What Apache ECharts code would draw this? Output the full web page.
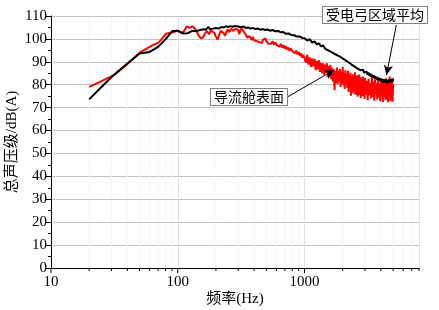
<!DOCTYPE html>
<html>
<head>
<meta charset="utf-8">
<script src="https://cdn.jsdelivr.net/npm/echarts@6/dist/echarts.min.js"></script>
<style>html,body{margin:0;padding:0;background:#fff;}#c{width:439px;height:310px;}</style>
</head>
<body>
<div id="c"></div>
<script>
// ---------- data ----------
const seriesNames = ['受电弓区域平均', '导流舱表面'];
const xName = '频率(Hz)';
const yName = '总声压级/dB(A)';
const xTickLabels = [10, 100, 1000];
const minorFreqs = [20,30,40,50,60,70,80,90,200,300,400,500,600,700,800,900,2000,3000,4000,5000,6000,7000,8000];

const blackFreq = [20,25,31.5,40,50,60,70,80,90,98,105,110,120,130,140,150,160,167,174,180,190,200,210,220,230,240,250,260,270,280,290,300,315,330,345,360,375,390,410,430,450,470,490,510,535,560,590,620,650,680,710,750,790,830,870,910,960,
1000,1050,1100,1150,1200,1250,1300,1350,1400,1450,1500,1550,1600,1650,1700,1750,1800,1850,1900,1950,2000,2050,2100,2150,2200,2250,2300,2350,2400,2450,2500,2550,2600,2650,2700,2750,2800,2850,2900,2950,3000,3050,3100,3150,3200,3250,3300,3350,3400,3450,3500,3550,3600,3650,3700,3750,3800,3850,3900,3950,4000,4050,4100,4150,4200,4250,4300,4350,4400,4450,4500,4550,4600,4650,4700,4750,4800,4850,4900,4950,5000];
const blackLevel = [73.6,79.0,84.4,89.3,93.6,94.3,96.5,99.8,103.3,103.6,103.0,102.4,102.5,103.5,103.4,103.9,104.2,104.0,105.3,104.2,104.5,104.8,104.5,105.2,105.0,105.5,105.2,105.6,105.3,105.6,105.1,105.4,105.1,105.4,104.8,105.0,104.5,104.8,104.3,104.5,104.0,104.3,103.9,104.1,103.6,103.9,103.3,103.5,102.9,103.0,102.3,102.4,101.7,101.6,101.0,101.1,100.4,
100.3,99.3,99.9,98.4,98.9,97.6,98.1,96.7,97.2,95.8,96.4,94.9,95.6,94.1,94.8,93.3,94.1,92.6,93.3,91.9,92.5,91.1,91.8,90.3,91.0,89.6,90.3,88.8,89.6,88.1,88.9,87.5,88.2,86.9,87.6,86.3,87.1,85.7,86.5,85.2,86.0,84.8,85.7,84.3,85.3,83.9,84.9,83.5,84.5,83.1,84.1,82.8,83.8,82.5,83.5,82.2,83.2,81.9,82.9,81.6,82.7,81.3,82.5,81.1,82.4,80.9,82.3,80.8,82.2,80.7,82.1,80.8,82.3,80.9,82.2,81.0,82.4,81.1,82.6,81.3,82.8];

const redFreq = [20,25,31.5,40,50,63,71,81,90,100,107,112,118,124,130,136,141,146,152,158,164,170,176,182,188,194,200,206,212,218,224,230,236,242,248,254,260,266,272,278,285,292,298,305,312,320,328,336,344,352,360,368,376,384,392,400,410,420,430,440,450,460,470,480,490,500,515,530,545,560,575,590,605,620,635,650,665,680,695,710,725,740,760,780,800,820,840,860,880,900,920,940,960,980,
1000,1025,1050,1075,1100,1125,1150,1175,1200,1225,1250,1275,1300,1325,1350,1375,1400,1425,1450,1475,1500,1525,1550,1575,1600,1625,1650,1675,1700,1725,1750,1775,1800,1825,1850,1875,1900,1925,1950,1975,2000,2025,2050,2075,2100,2125,2150,2175,2200,2225,2250,2275,2300,2325,2350,2375,2400,2425,2450,2475,2500,2525,2550,2575,2600,2625,2650,2675,2700,2725,2750,2775,2800,2825,2850,2875,2900,2925,2950,2975,
3000,3050,3100,3150,3200,3250,3300,3350,3400,3450,3500,3550,3600,3650,3700,3750,3800,3850,3900,3950,4000,4050,4100,4150,4200,4250,4300,4350,4400,4450,4500,4550,4600,4650,4700,4750,4800,4850,4900,4950,5000];
const redLevel = [79.1,81.6,84.3,89.0,94.0,97.2,98.5,102.3,102.8,103.6,102.6,103.4,105.5,104.8,105.5,104.6,103.4,101.5,100.2,100.6,102.5,103.4,102.0,103.6,104.0,102.7,101.0,99.6,101.8,103.5,104.3,102.6,101.4,103.2,104.1,103.0,102.8,104.5,103.5,102.7,104.3,105.0,104.1,102.1,103.8,104.7,103.6,104.2,101.8,100.6,100.0,101.2,100.4,99.5,100.8,99.4,100.1,99.0,99.8,98.6,99.3,98.2,99.6,98.9,100.2,99.0,98.0,98.8,97.9,99.0,97.5,98.4,97.2,98.0,96.6,97.8,96.2,97.3,95.8,96.9,95.4,96.3,94.8,95.9,94.6,95.4,93.8,94.9,93.2,94.3,92.5,93.7,91.8,93.0,
92.6,89.6,93.0,88.8,91.9,87.7,91.4,88.0,91.3,86.4,90.3,86.7,90.7,85.6,89.5,85.0,89.3,84.4,88.8,85.2,89.4,83.3,88.1,83.6,88.7,82.4,87.4,81.4,86.6,77.6,86.0,80.8,87.5,80.2,86.2,81.3,86.9,79.0,85.5,80.6,87.8,79.7,85.2,78.1,86.3,80.0,84.7,78.6,86.1,76.8,84.0,79.2,85.2,75.2,83.5,77.9,84.6,76.2,83.2,78.7,85.4,75.6,82.6,77.5,84.1,74.8,82.4,77.1,84.4,75.5,82.1,74.1,83.2,76.4,81.7,75.0,83.6,76.1,81.2,73.8,
82.9,75.7,81.6,73.2,82.6,75.4,80.8,74.0,83.4,74.7,81.3,73.0,82.4,75.9,80.6,73.5,83.0,74.4,80.4,72.8,82.1,75.2,81.0,72.5,81.8,74.6,80.3,73.2,82.8,73.9,80.7,72.4,82.0,75.1,83.6,72.9,82.5,74.3,81.4,72.6,80.2];

// annotation arrows: [from(freq, level), to(freq, level)]
const blackArrow = [[5300, 106.1], [4430, 84.2]];
const redArrow = [[735, 74.7], [1722, 86.5]];

// ---------- chart ----------
const zip = (xs, ys) => xs.map((x, i) => [x, ys[i]]);
const FONT = "'Liberation Serif', 'Noto Sans CJK SC', serif";
const chart = echarts.init(document.getElementById('c'), null, {renderer: 'canvas'});

const isPow10 = v => Math.abs(Math.log10(v) - Math.round(Math.log10(v))) < 1e-6;

const option = {
  animation: false,
  backgroundColor: '#fff',
  grid: {left: 51, right: 20, top: 16, bottom: 42, containLabel: false, outerBoundsMode: 'none'},
  xAxis: {
    type: 'log', logBase: 10, min: 10, max: 8000,
    name: xName, nameLocation: 'middle', nameGap: 24, nameMoveOverlap: false,
    nameTextStyle: {fontFamily: FONT, fontSize: 15, color: '#000'},
    axisLine: {show: true, lineStyle: {color: '#000', width: 1}},
    axisTick: {show: false},
    axisLabel: {
      fontFamily: FONT, fontSize: 15, color: '#000', margin: 7,
      formatter: v => isPow10(v) ? String(Math.round(v)) : ''
    },
    splitLine: {show: true, lineStyle: {color: '#e2e2e2', width: 1}},
    minorTick: {show: false},
    minorSplitLine: {show: false}
  },
  yAxis: {
    type: 'value', min: 0, max: 110, interval: 10,
    name: yName, nameLocation: 'middle', nameGap: 31, nameMoveOverlap: false,
    nameTextStyle: {fontFamily: FONT, fontSize: 15, color: '#000'},
    axisLine: {show: true, lineStyle: {color: '#000', width: 1}},
    axisTick: {show: true, length: 5, lineStyle: {color: '#000'}},
    minorTick: {show: true, splitNumber: 2, length: 3, lineStyle: {color: '#000'}},
    axisLabel: {fontFamily: FONT, fontSize: 15, color: '#000', margin: 4},
    splitLine: {show: true, lineStyle: {color: '#c4c4c4', width: 1}}
  },
  series: [
    {
      type: 'custom', silent: true, z: 1, clip: false,
      data: minorFreqs.map(f => [f, 0]).concat(xTickLabels.map(f => [f, 1])),
      renderItem: (params, api) => {
        const f = api.value(0), major = api.value(1) === 1;
        const p0 = api.coord([f, 0]);
        const p1 = api.coord([f, 110]);
        const children = [{
          type: 'line',
          shape: {x1: p0[0], y1: p0[1], x2: p0[0], y2: p0[1] + (major ? 5 : 3)},
          style: {stroke: '#000', lineWidth: 1}
        }];
        if (!major) children.push({
          type: 'line',
          shape: {x1: p0[0], y1: p0[1] - 1, x2: p1[0], y2: p1[1]},
          style: {stroke: '#e8e8e8', lineWidth: 1, lineDash: [1, 2]}
        });
        return {type: 'group', children};
      }
    },
    {
      name: seriesNames[0], type: 'line', z: 3, showSymbol: false,
      data: zip(blackFreq, blackLevel),
      lineStyle: {color: '#000', width: 2}, itemStyle: {color: '#000'},
      markLine: {
        silent: true, symbol: ['none', 'arrow'], symbolSize: [7, 10],
        label: {show: false},
        lineStyle: {color: '#000', width: 1, type: 'solid'},
        data: [[{coord: blackArrow[0]}, {coord: blackArrow[1]}]]
      }
    },
    {
      name: seriesNames[1], type: 'line', z: 2, showSymbol: false,
      data: zip(redFreq, redLevel),
      lineStyle: {color: '#ff0000', width: 2}, itemStyle: {color: '#ff0000'},
      markLine: {
        silent: true, symbol: ['none', 'arrow'], symbolSize: [7, 10],
        label: {show: false},
        lineStyle: {color: '#000', width: 1, type: 'solid'},
        data: [[{coord: redArrow[0]}, {coord: redArrow[1]}]]
      }
    }
  ],
  graphic: [
    {
      type: 'text', left: 322, top: 6, z: 10,
      style: {
        text: seriesNames[0], font: "14px 'Noto Sans CJK SC'", fill: '#000',
        backgroundColor: '#fff', borderColor: '#808080', borderWidth: 1,
        padding: [1, 3, 1, 3]
      }
    },
    {
      type: 'text', left: 210, top: 88, z: 10,
      style: {
        text: seriesNames[1], font: "14px 'Noto Sans CJK SC'", fill: '#000',
        backgroundColor: '#fff', borderColor: '#808080', borderWidth: 1,
        padding: [1, 3, 1, 3]
      }
    }
  ]
};
chart.setOption(option);
</script>
</body>
</html>
